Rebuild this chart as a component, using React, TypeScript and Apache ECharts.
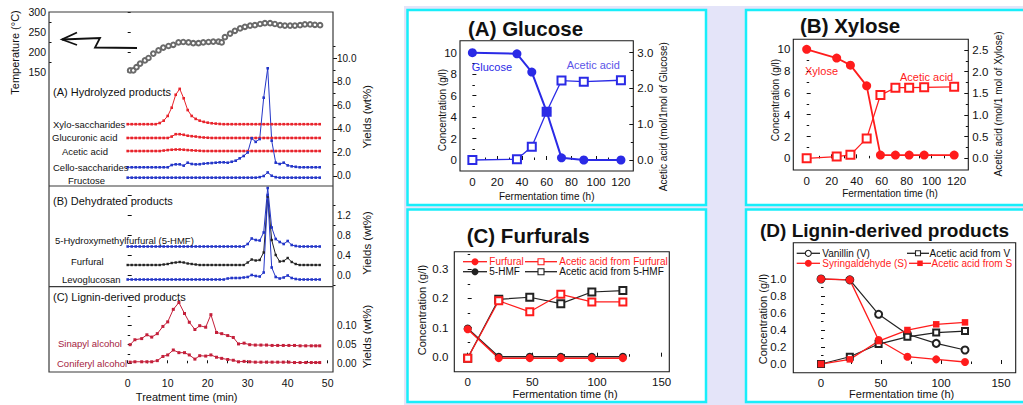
import React, { useEffect, useRef } from 'react';
import * as echarts from 'echarts';

const FONT = '"Liberation Sans", Arial, Helvetica, sans-serif';

// ---------------- Left panel: pyrolysis, treatment time (min) ----------------
const TEMP_TIME = [0.6, 1.4, 2.2, 3.1, 4.3, 5.2, 6.4, 7.7, 8.9, 10.2, 11.4, 12.7, 13.9, 15.2, 16.4, 17.7, 18.9, 20.2, 21.4, 22.7, 23.5, 24.3, 25.6, 26.8, 28.1, 29.3, 30.6, 31.8, 33.1, 34.3, 35.6, 36.8, 38.1, 39.3, 40.6, 41.8, 43.1, 44.3, 45.6, 46.8, 48.1];
const TEMPERATURE = [154, 154, 162, 171, 179, 185, 196, 204, 211, 215, 218, 224, 225, 224, 222, 222, 224, 225, 226, 226, 224, 237, 246, 253, 259, 263, 266, 267, 270, 272, 272, 270, 267, 266, 266, 266, 267, 269, 269, 268, 267];

const MINUTES = [0, 1, 2, 3, 4, 5, 6, 7, 8, 9, 10, 11, 12, 13, 14, 15, 16, 17, 18, 19, 20, 21, 22, 23, 24, 25, 26, 27, 28, 29, 30, 31, 32, 33, 34, 35, 36, 37, 38, 39, 40, 41, 42, 43, 44, 45, 46, 47, 48];
// (A) Hydrolyzed products (offset traces, wt%)
const XYLO_SACCHARIDES = [4.4, 4.4, 4.4, 4.4, 4.4, 4.4, 4.4, 4.4, 4.5, 4.7, 5.1, 5.8, 6.9, 7.4, 6.6, 5.6, 5.1, 4.85, 4.7, 4.6, 4.53, 4.48, 4.45, 4.42, 4.4, 4.4, 4.4, 4.4, 4.4, 4.4, 4.4, 4.4, 4.4, 4.4, 4.4, 4.4, 4.4, 4.4, 4.4, 4.4, 4.4, 4.4, 4.4, 4.4, 4.4, 4.4, 4.4, 4.4, 4.4];
const GLUCURONIC_ACID = [3.23, 3.23, 3.23, 3.23, 3.23, 3.23, 3.23, 3.23, 3.23, 3.23, 3.23, 3.35, 3.55, 3.55, 3.5, 3.42, 3.38, 3.35, 3.3, 3.27, 3.25, 3.23, 3.23, 3.23, 3.23, 3.23, 3.23, 3.23, 3.23, 3.23, 3.23, 3.23, 3.23, 3.23, 3.23, 3.23, 3.23, 3.23, 3.23, 3.23, 3.23, 3.23, 3.23, 3.23, 3.23, 3.23, 3.23, 3.23, 3.23];
const ACETIC_ACID_PYRO = [2.12, 2.12, 2.12, 2.12, 2.12, 2.12, 2.12, 2.12, 2.12, 2.16, 2.2, 2.23, 2.25, 2.25, 2.23, 2.2, 2.18, 2.16, 2.14, 2.12, 2.12, 2.12, 2.12, 2.12, 2.12, 2.12, 2.12, 2.12, 2.12, 2.12, 2.12, 2.12, 2.12, 2.12, 2.12, 2.12, 2.12, 2.12, 2.12, 2.12, 2.12, 2.12, 2.12, 2.12, 2.12, 2.12, 2.12, 2.12, 2.12];
const CELLO_SACCHARIDES = [0.74, 0.74, 0.74, 0.74, 0.74, 0.74, 0.74, 0.74, 0.74, 0.74, 0.74, 0.93, 0.99, 0.99, 0.88, 1.13, 1.02, 0.99, 1.0, 1.05, 1.08, 1.1, 1.13, 1.16, 1.16, 1.13, 1.21, 1.3, 1.5, 1.7, 2.0, 3.2, 2.9, 3.14, 6.65, 9.15, 3.0, 1.13, 1.02, 1.13, 0.9, 0.82, 0.78, 0.74, 0.74, 0.74, 0.74, 0.74, 0.74];
const FRUCTOSE = [-0.14, -0.14, -0.14, -0.14, -0.14, -0.14, -0.14, -0.14, -0.14, -0.14, -0.14, -0.14, -0.14, -0.14, -0.14, -0.14, -0.14, -0.14, -0.14, -0.14, -0.14, -0.14, -0.14, -0.14, -0.14, -0.14, -0.14, -0.14, -0.14, -0.14, -0.14, -0.14, -0.14, -0.1, 0.0, 0.3, 0.02, -0.1, -0.14, -0.14, -0.14, -0.14, -0.14, -0.14, -0.14, -0.14, -0.14, -0.14, -0.14];
// (B) Dehydrated products
const HMF_PYRO = [0.57, 0.57, 0.57, 0.57, 0.57, 0.57, 0.57, 0.57, 0.57, 0.57, 0.57, 0.57, 0.57, 0.57, 0.57, 0.57, 0.57, 0.57, 0.57, 0.57, 0.57, 0.57, 0.57, 0.57, 0.57, 0.57, 0.57, 0.57, 0.57, 0.57, 0.62, 0.73, 0.7, 0.69, 0.85, 1.74, 0.95, 0.72, 0.66, 0.62, 0.68, 0.6, 0.58, 0.57, 0.57, 0.57, 0.57, 0.57, 0.57];
const FURFURAL_PYRO = [0.2, 0.2, 0.2, 0.2, 0.2, 0.2, 0.2, 0.2, 0.2, 0.21, 0.22, 0.24, 0.25, 0.26, 0.25, 0.23, 0.22, 0.21, 0.2, 0.2, 0.2, 0.2, 0.2, 0.2, 0.2, 0.2, 0.2, 0.2, 0.2, 0.2, 0.25, 0.31, 0.29, 0.3, 0.45, 1.57, 0.7, 0.4, 0.27, 0.28, 0.34, 0.26, 0.22, 0.2, 0.2, 0.2, 0.2, 0.2, 0.2];
const LEVOGLUCOSAN = [-0.09, -0.09, -0.09, -0.09, -0.09, -0.09, -0.09, -0.09, -0.09, -0.09, -0.09, -0.09, -0.09, -0.09, -0.09, -0.09, -0.09, -0.09, -0.09, -0.09, -0.09, -0.09, -0.09, -0.09, -0.09, -0.07, -0.06, -0.06, -0.06, -0.05, -0.04, 0.0, -0.02, -0.03, 0.05, 1.6, 0.15, -0.04, -0.07, -0.05, -0.01, -0.06, -0.08, -0.09, -0.09, -0.09, -0.09, -0.09, -0.09];
// (C) Lignin-derived products
const LIGNIN_TIME = [0.6, 1.8, 3.5, 4.8, 6.0, 7.4, 8.8, 10.0, 11.4, 12.8, 14.2, 15.4, 16.8, 18.0, 19.5, 20.8, 22.2, 23.5, 25.0, 26.4, 27.7, 29.1, 30.5, 31.9, 33.3, 34.7, 36.1, 37.5, 38.9, 40.3, 41.7, 43.1, 44.5, 45.9, 47.0, 48.0];
const SINAPYL_ALCOHOL = [0.049, 0.062, 0.065, 0.075, 0.069, 0.078, 0.097, 0.109, 0.142, 0.16, 0.131, 0.108, 0.089, 0.099, 0.095, 0.128, 0.081, 0.078, 0.073, 0.068, 0.051, 0.053, 0.049, 0.048, 0.048, 0.048, 0.047, 0.047, 0.047, 0.047, 0.047, 0.046, 0.046, 0.046, 0.046, 0.046];
const CONIFERYL_ALCOHOL = [0.003, 0.004, 0.004, 0.004, 0.004, 0.007, 0.018, 0.022, 0.035, 0.028, 0.028, 0.022, 0.011, 0.02, 0.019, 0.022, 0.016, 0.013, 0.01, 0.008, 0.004, 0.005, 0.004, 0.003, 0.003, 0.003, 0.003, 0.003, 0.003, 0.003, 0.002, 0.002, 0.002, 0.002, 0.002, 0.002];

const TEMP_TICKS = [150, 200, 250, 300];
const YIELD_A_TICKS = [0, 2, 4, 6, 8, 10];
const YIELD_B_TICKS = [0, 0.4, 0.8, 1.2];
const YIELD_C_TICKS = [0, 0.05, 0.1];
const MIN_TICKS = [0, 10, 20, 30, 40, 50];

// ---------------- Right panels: fermentation time (h) ----------------
const TIME_A = [0, 36, 48, 60, 72, 90, 120];
const GLUCOSE = [10, 9.9, 8.2, 4.5, 0.2, 0, 0];
const ACETIC_FROM_GLUCOSE = [0, 0.02, 0.37, 1.35, 2.22, 2.19, 2.23];

const TIME_B = [0, 24, 35, 48, 59, 71, 82, 94, 118];
const XYLOSE = [10, 9.2, 8.55, 6.65, 0.3, 0.3, 0.3, 0.3, 0.3];
const ACETIC_FROM_XYLOSE = [0, 0.04, 0.08, 0.46, 1.46, 1.63, 1.63, 1.64, 1.65];

const TIME_C = [0, 24, 48, 72, 96, 120];
const FURFURAL = [0.094, -0.005, -0.005, -0.005, -0.005, -0.005];
const HMF = [0.097, 0, 0, 0, 0, 0];
const ACETIC_FROM_FURFURAL = [-0.005, 0.192, 0.154, 0.214, 0.188, 0.188];
const ACETIC_FROM_HMF = [-0.005, 0.197, 0.204, 0.182, 0.222, 0.227];

const TIME_D = [0, 24, 48, 72, 96, 120];
const VANILLIN = [1.0, 0.99, 0.585, 0.35, 0.243, 0.165];
const SYRINGALDEHYDE = [1.0, 0.99, 0.282, 0.086, 0.055, 0.024];
const ACETIC_FROM_V = [0, 0.086, 0.235, 0.32, 0.37, 0.388];
const ACETIC_FROM_S = [0, 0.055, 0.27, 0.4, 0.467, 0.49];

const H_TICKS_120 = [0, 20, 40, 60, 80, 100, 120];
const H_TICKS_150 = [0, 50, 100, 150];
const CONC_TICKS_10 = [0, 2, 4, 6, 8, 10];

// ---------------- colours ----------------
const RED_L = '#e8232b';
const BLUE_L = '#2436c8';
const BLACK_L = '#222222';
const DARKRED = '#c41f3a';
const DARKRED_TXT = '#a51d3e';
const BLUE_A = '#2a2ae6';
const BLUE_A_TXT = '#5b54e8';
const RED = '#ff1c1c';
const CYAN = '#18eefa';
const LAVENDER = '#e4e4f9';

const zip = (xs: number[], ys: number[]) => xs.map((x, i) => [x, ys[i]]);

interface AxSpec {
  grid: number; pos: string; min: number; max: number;
  major?: number[]; labels?: number[]; minor?: number[];
  inside?: boolean; dec?: number; size?: number; margin?: number; len?: number;
}

function addAxis(list: any[], s: AxSpec): number {
  const base = {
    type: 'value', gridIndex: s.grid, position: s.pos, min: s.min, max: s.max,
    splitLine: { show: false }, axisLine: { show: false },
  };
  const idx = list.length;
  list.push({
    ...base,
    axisTick: s.major
      ? { show: true, inside: !!s.inside, length: s.len ?? 4, customValues: s.major, lineStyle: { color: '#111', width: 1 } }
      : { show: false },
    axisLabel: s.labels
      ? {
          show: true, customValues: s.labels, margin: s.margin ?? 4, fontSize: s.size ?? 11.5,
          fontFamily: FONT, color: '#111',
          formatter: (v: number) => (s.dec != null ? v.toFixed(s.dec) : String(v)),
        }
      : { show: false },
  });
  if (s.minor) {
    list.push({
      ...base,
      axisTick: { show: true, inside: !!s.inside, length: 2.5, customValues: s.minor, lineStyle: { color: '#111', width: 1 } },
      axisLabel: { show: false },
    });
  }
  return idx;
}

function txt(text: string, x: number, y: number, size: number, o: any = {}) {
  return {
    type: 'text', x, y, z: 60, rotation: o.rot ?? 0, silent: true,
    style: {
      text, fill: o.color ?? '#111', fontSize: size, fontFamily: FONT, fontWeight: o.bold ? 'bold' : 'normal',
      textAlign: o.align ?? 'left', align: o.align ?? 'left', textVerticalAlign: 'middle', verticalAlign: 'middle',
    },
  };
}

function buildOption() {
  const grids = [
    { left: 49, top: 12, width: 284, height: 174 },
    { left: 49, top: 186, width: 284, height: 100.7 },
    { left: 49, top: 286.7, width: 284, height: 85.3 },
    { left: 460, top: 40.7, width: 173.3, height: 130.3 },
    { left: 793.3, top: 39.3, width: 175, height: 130.7 },
    { left: 454.3, top: 251.7, width: 215, height: 120 },
    { left: 793.3, top: 242.7, width: 222.4, height: 130 },
  ].map((g) => ({ ...g, show: false, containLabel: false }));

  const xAxes: any[] = [];
  const yAxes: any[] = [];

  // left panel
  const xL0 = addAxis(xAxes, { grid: 0, pos: 'bottom', min: -19.675, max: 51.325 });
  const xL1 = addAxis(xAxes, { grid: 1, pos: 'bottom', min: -19.675, max: 51.325 });
  const xL2 = addAxis(xAxes, { grid: 2, pos: 'bottom', min: -19.675, max: 51.325, major: MIN_TICKS, labels: MIN_TICKS, minor: [5, 15, 25, 35, 45], inside: true, size: 10.5, margin: 5, len: 3 });
  const yTemp = addAxis(yAxes, { grid: 0, pos: 'left', min: -135, max: 300, major: TEMP_TICKS, labels: TEMP_TICKS, minor: [175, 225, 275], inside: true, size: 10.5, margin: 3, len: 3 });
  const yA = addAxis(yAxes, { grid: 0, pos: 'right', min: -0.85, max: 13.93, major: YIELD_A_TICKS, labels: YIELD_A_TICKS, minor: [1, 3, 5, 7, 9, 11], dec: 1, size: 10, margin: 4, len: 4 });
  const yB = addAxis(yAxes, { grid: 1, pos: 'right', min: -0.234, max: 1.78, major: [0, 0.4, 0.8, 1.2, 1.6], labels: YIELD_B_TICKS, minor: [-0.2, 0.2, 0.6, 1.0, 1.4], dec: 1, size: 10, margin: 4, len: 4 });
  const yC = addAxis(yAxes, { grid: 2, pos: 'right', min: -0.0229, max: 0.2016, major: [0, 0.05, 0.1, 0.15], labels: YIELD_C_TICKS, minor: [0.025, 0.075, 0.125, 0.175], dec: 2, size: 10, margin: 4, len: 4 });

  // panel A
  const xA = addAxis(xAxes, { grid: 3, pos: 'bottom', min: -10, max: 130, major: H_TICKS_120, labels: H_TICKS_120, minor: [10, 30, 50, 70, 90, 110], inside: true, margin: 5 });
  const yAl = addAxis(yAxes, { grid: 3, pos: 'left', min: -1.025, max: 11.12, major: CONC_TICKS_10, labels: CONC_TICKS_10, minor: [1, 3, 5, 7, 9], inside: true, margin: 3 });
  const yAr = addAxis(yAxes, { grid: 3, pos: 'right', min: -0.3075, max: 3.335, major: [0, 1, 2, 3], labels: [0, 1, 2, 3], minor: [0.5, 1.5, 2.5], inside: true, dec: 1, margin: 4 });
  // panel B
  const xB = addAxis(xAxes, { grid: 4, pos: 'bottom', min: -10.7, max: 129.3, major: H_TICKS_120, labels: H_TICKS_120, minor: [10, 30, 50, 70, 90, 110], inside: true, margin: 5 });
  const yBl = addAxis(yAxes, { grid: 4, pos: 'left', min: -1.07, max: 10.92, major: CONC_TICKS_10, labels: CONC_TICKS_10, minor: [1, 3, 5, 7, 9], inside: true, margin: 3 });
  const yBr = addAxis(yAxes, { grid: 4, pos: 'right', min: -0.27, max: 2.748, major: [0, 0.5, 1, 1.5, 2, 2.5], labels: [0, 0.5, 1, 1.5, 2, 2.5], minor: [0.25, 0.75, 1.25, 1.75, 2.25], inside: true, dec: 1, margin: 4 });
  // panel C
  const xC = addAxis(xAxes, { grid: 5, pos: 'bottom', min: -10.36, max: 155.9, major: H_TICKS_150, labels: H_TICKS_150, minor: [25, 75, 125], inside: true, margin: 4 });
  const yCl = addAxis(yAxes, { grid: 5, pos: 'left', min: -0.0515, max: 0.3604, major: [0, 0.1, 0.2, 0.3], labels: [0, 0.1, 0.2, 0.3], minor: [0.05, 0.15, 0.25, 0.35], inside: true, dec: 1, margin: 6 });
  // panel D
  const xD = addAxis(xAxes, { grid: 6, pos: 'bottom', min: -23.1, max: 162.25, major: H_TICKS_150, labels: H_TICKS_150, minor: [25, 75, 125], inside: true, margin: 4 });
  const yDl = addAxis(yAxes, { grid: 6, pos: 'left', min: -0.102, max: 1.427, major: [0, 0.2, 0.4, 0.6, 0.8, 1.0], labels: [0, 0.2, 0.4, 0.6, 0.8, 1.0], minor: [0.1, 0.3, 0.5, 0.7, 0.9], inside: true, dec: 1, margin: 7 });

  const ln = (xi: number, yi: number, data: number[][], color: string, symbol: string, size: number, lw: number, bw = 0) => ({
    type: 'line', xAxisIndex: xi, yAxisIndex: yi, data, symbol, symbolSize: size, showSymbol: true,
    lineStyle: { color, width: lw, opacity: lw > 0 ? 1 : 0 },
    itemStyle: { color, borderColor: color, borderWidth: bw },
    silent: true, clip: false, z: 3,
  });

  const series = [
    ln(xL0, yTemp, zip(TEMP_TIME, TEMPERATURE), '#6a6a6a', 'emptyCircle', 4.6, 0, 0.7),
    ln(xL0, yA, zip(MINUTES, XYLO_SACCHARIDES), RED_L, 'rect', 2.6, 1),
    ln(xL0, yA, zip(MINUTES, GLUCURONIC_ACID), RED_L, 'rect', 2.6, 1),
    ln(xL0, yA, zip(MINUTES, ACETIC_ACID_PYRO), RED_L, 'rect', 2.6, 1),
    ln(xL0, yA, zip(MINUTES, CELLO_SACCHARIDES), BLUE_L, 'rect', 2.6, 1),
    ln(xL0, yA, zip(MINUTES, FRUCTOSE), BLUE_L, 'rect', 2.6, 1),
    ln(xL1, yB, zip(MINUTES, HMF_PYRO), BLUE_L, 'rect', 2.6, 1),
    ln(xL1, yB, zip(MINUTES, FURFURAL_PYRO), BLACK_L, 'rect', 2.4, 1),
    ln(xL1, yB, zip(MINUTES, LEVOGLUCOSAN), BLUE_L, 'rect', 2.6, 1),
    ln(xL2, yC, zip(LIGNIN_TIME, SINAPYL_ALCOHOL), DARKRED, 'rect', 3, 1),
    ln(xL2, yC, zip(LIGNIN_TIME, CONIFERYL_ALCOHOL), DARKRED, 'rect', 3, 1),

    ln(xA, yAr, zip(TIME_A, ACETIC_FROM_GLUCOSE), BLUE_A, 'emptyRect', 8, 1.3, 1.2),
    ln(xA, yAl, zip(TIME_A, GLUCOSE), BLUE_A, 'circle', 9, 2),

    ln(xB, yBr, zip(TIME_B, ACETIC_FROM_XYLOSE), RED, 'emptyRect', 8, 1.3, 1.2),
    ln(xB, yBl, zip(TIME_B, XYLOSE), RED, 'circle', 9, 1.8),

    ln(xC, yCl, zip(TIME_C, HMF), BLACK_L, 'circle', 8, 1.5),
    ln(xC, yCl, zip(TIME_C, FURFURAL), RED, 'circle', 8, 1.5),
    ln(xC, yCl, zip(TIME_C, ACETIC_FROM_HMF), BLACK_L, 'emptyRect', 7, 1.2, 1.2),
    ln(xC, yCl, zip(TIME_C, ACETIC_FROM_FURFURAL), RED, 'emptyRect', 7, 1.2, 1.2),

    ln(xD, yDl, zip(TIME_D, VANILLIN), BLACK_L, 'emptyCircle', 7, 1.2, 1.2),
    ln(xD, yDl, zip(TIME_D, SYRINGALDEHYDE), RED, 'circle', 8, 1.3),
    ln(xD, yDl, zip(TIME_D, ACETIC_FROM_V), BLACK_L, 'emptyRect', 6, 1.2, 1.2),
    ln(xD, yDl, zip(TIME_D, ACETIC_FROM_S), RED, 'rect', 6.5, 1.3),
  ];

  const frame = (x: number, y: number, w: number, h: number, color = '#1a1a1a', lw = 1.1) => ({
    type: 'rect', z: 5, silent: true, shape: { x, y, width: w, height: h },
    style: { fill: 'none', stroke: color, lineWidth: lw },
  });
  const panel = (x: number, y: number, w: number, h: number) => ({
    type: 'rect', z: -5, silent: true, shape: { x, y, width: w, height: h },
    style: { fill: '#ffffff', stroke: CYAN, lineWidth: 2.5 },
  });
  const seg = (x1: number, y1: number, x2: number, y2: number, color: string, lw = 1.3) => ({
    type: 'line', z: 60, silent: true, shape: { x1, y1, x2, y2 }, style: { stroke: color, lineWidth: lw },
  });
  const dot = (cx: number, cy: number, r: number, color: string, filled: boolean) => ({
    type: 'circle', z: 61, silent: true, shape: { cx, cy, r },
    style: { fill: filled ? color : '#fff', stroke: color, lineWidth: filled ? 0 : 1.1 },
  });
  const sq = (cx: number, cy: number, s: number, color: string, filled: boolean) => ({
    type: 'rect', z: 61, silent: true, shape: { x: cx - s / 2, y: cy - s / 2, width: s, height: s },
    style: { fill: filled ? color : '#fff', stroke: color, lineWidth: filled ? 0 : 1.1 },
  });

  const graphic: any[] = [
    { type: 'rect', z: -10, silent: true, shape: { x: 404, y: 6, width: 619, height: 399 }, style: { fill: LAVENDER } },
    panel(407.5, 10, 298.5, 195),
    panel(407.5, 209.5, 298.5, 192.5),
    panel(746, 10, 300, 195),
    panel(746, 209.5, 300, 192.5),

    // left panel frame
    frame(49, 12, 284, 360, '#3a3a3a', 1.2),
    seg(49, 186, 333, 186, '#3a3a3a', 1.2),
    seg(49, 286.7, 333, 286.7, '#3a3a3a', 1.2),
    // right panel frames
    frame(460, 40.7, 173.3, 130.3),
    frame(793.3, 39.3, 175, 130.7),
    frame(454.3, 251.7, 215, 120),
    frame(793.3, 242.7, 222.4, 130),

    // hand-drawn arrow
    {
      type: 'polyline', z: 60, silent: true,
      shape: { points: [[137, 48], [95, 47.5], [100, 38], [62, 39.5]] },
      style: { stroke: '#111', lineWidth: 1.8, fill: 'none' },
    },
    {
      type: 'polyline', z: 60, silent: true,
      shape: { points: [[77, 32.5], [62, 39.5], [77, 45]] },
      style: { stroke: '#111', lineWidth: 1.8, fill: 'none' },
    },

    // left panel texts
    txt('Temperature (°C)', 15, 52.5, 11, { rot: Math.PI / 2, align: 'center' }),
    txt('(A) Hydrolyzed products', 53, 92, 11),
    txt('Xylo-saccharides', 53, 124.3, 9.5),
    txt('Glucuronic acid', 52, 137.5, 9.5),
    txt('Acetic acid', 62, 151.5, 9.5),
    txt('Cello-saccharides', 53, 167.5, 9.5),
    txt('Fructose', 68, 180.5, 9.5),
    txt('(B) Dehydrated products', 53, 201, 11),
    txt('5-Hydroxymethylfurfural (5-HMF)', 55, 240, 9.5),
    txt('Furfural', 71, 261, 9.5),
    txt('Levoglucosan', 62, 279.7, 9.5),
    txt('(C) Lignin-derived products', 53, 296.7, 11),
    txt('Sinapyl alcohol', 58, 343.3, 9.5, { color: DARKRED_TXT }),
    txt('Coniferyl alcohol', 57, 363.3, 9.5, { color: DARKRED_TXT }),
    txt('Yields (wt%)', 367, 116.7, 11.5, { rot: Math.PI / 2, align: 'center' }),
    txt('Yields (wt%)', 367, 243, 11.5, { rot: Math.PI / 2, align: 'center' }),
    txt('Yields (wt%)', 367, 336.5, 11.5, { rot: Math.PI / 2, align: 'center' }),
    txt('Treatment time (min)', 186.7, 396.5, 11, { align: 'center' }),

    // panel A
    txt('(A) Glucose', 468, 28, 20.5, { bold: true }),
    txt('Concentration (g/l)', 442.7, 110, 10, { rot: Math.PI / 2, align: 'center' }),
    txt('Acetic acid (mol/1mol of Glucose)', 663.3, 116.7, 10, { rot: Math.PI / 2, align: 'center' }),
    txt('Fermentation time (h)', 546.7, 196.5, 10, { align: 'center' }),
    txt('Glucose', 471.7, 67.3, 11, { color: BLUE_A }),
    txt('Acetic acid', 566.7, 65, 11, { color: BLUE_A_TXT }),

    // panel B
    txt('(B) Xylose', 800, 25, 20.5, { bold: true }),
    txt('Concentration (g/l)', 775, 100, 10, { rot: Math.PI / 2, align: 'center' }),
    txt('Acetic acid (mol/1 mol of Xylose)', 998.3, 104, 10, { rot: Math.PI / 2, align: 'center' }),
    txt('Fermentation time (h)', 890, 193.3, 10, { align: 'center' }),
    txt('Xylose', 805, 70.7, 11, { color: RED }),
    txt('Acetic acid', 900, 77.3, 11, { color: RED }),

    // panel C
    txt('(C) Furfurals', 466.7, 235, 20.5, { bold: true }),
    txt('Concentration (g/l)', 421.7, 310, 11, { rot: Math.PI / 2, align: 'center' }),
    txt('Fermentation time (h)', 565, 394.3, 11, { align: 'center' }),
    seg(463, 261.7, 487, 261.7, RED), dot(475, 261.7, 3.5, RED, true),
    txt('Furfural', 489.3, 261.7, 10, { color: RED }),
    seg(525, 261.7, 557, 261.7, RED), sq(541, 261.7, 6, RED, false),
    txt('Acetic acid from Furfural', 559.3, 261.7, 10, { color: RED }),
    seg(463, 271.7, 487, 271.7, BLACK_L), dot(475, 271.7, 3.5, BLACK_L, true),
    txt('5-HMF', 489.3, 271.7, 10),
    seg(525, 271.7, 557, 271.7, BLACK_L), sq(541, 271.7, 6, BLACK_L, false),
    txt('Acetic acid from 5-HMF', 559.3, 271.7, 10),

    // panel D
    txt('(D) Lignin-derived products', 760, 230, 19, { bold: true }),
    txt('Concentration (g/l)', 763.3, 319, 11, { rot: Math.PI / 2, align: 'center' }),
    txt('Fermentation time (h)', 901.7, 394, 11, { align: 'center' }),
    seg(796.7, 253.3, 820, 253.3, BLACK_L), dot(808.3, 253.3, 3, BLACK_L, false),
    txt('Vanillin (V)', 822.3, 253.3, 10),
    seg(907, 253.3, 929, 253.3, BLACK_L), sq(918, 253.3, 5, BLACK_L, false),
    txt('Acetic acid from V', 929.5, 253.3, 10),
    seg(796.7, 263.3, 820, 263.3, RED), dot(808.3, 263.3, 3.5, RED, true),
    txt('Syringaldehyde (S)', 822.3, 263.3, 10, { color: RED }),
    seg(909, 263.3, 931, 263.3, RED), sq(920, 263.3, 5.5, RED, true),
    txt('Acetic acid from S', 931.5, 263.3, 10, { color: RED }),
  ];

  return {
    animation: false,
    backgroundColor: '#ffffff',
    textStyle: { fontFamily: FONT },
    grid: grids,
    xAxis: xAxes,
    yAxis: yAxes,
    series,
    graphic,
  };
}

export default function App() {
  const ref = useRef<HTMLDivElement>(null);
  useEffect(() => {
    if (!ref.current) return;
    const chart = echarts.init(ref.current, null, { renderer: 'svg', width: 1023, height: 405 });
    chart.setOption(buildOption() as any);
    return () => chart.dispose();
  }, []);
  return (
    <div
      ref={ref}
      style={{ position: 'absolute', left: 0, top: 0, width: 1023, height: 405, background: '#fff' }}
    />
  );
}
